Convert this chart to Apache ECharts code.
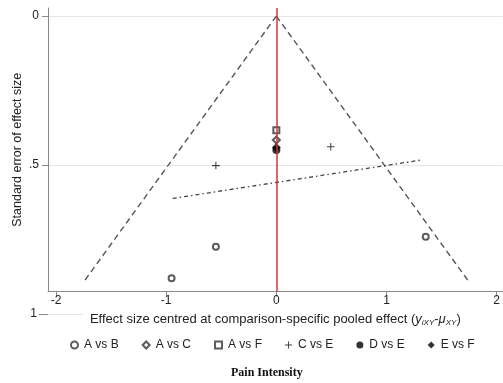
<!DOCTYPE html>
<html>
<head>
<meta charset="utf-8">
<script src="https://cdn.jsdelivr.net/npm/echarts@6/dist/echarts.min.js"></script>
<style>
  html, body { margin: 0; padding: 0; background: #fff; }
  #chart { width: 503px; height: 383px; }
</style>
</head>
<body>
<div id="chart"></div>
<script>
// Comparison-adjusted funnel plot: centred effect vs. standard error
const xTicks = [-2, -1, 0, 1, 2];
const yTicks = [0, 0.5];
const yTickLabels = ['0', '.5'];
const yExtraTick = [1];

// Observed comparisons: [centred effect, standard error]
const compAvsB = [[-0.951, 0.880], [-0.549, 0.774], [1.356, 0.741]];
const compAvsC = [[0.0, 0.416]];
const compAvsF = [[0.0, 0.383]];
const compCvsE = [[-0.549, 0.502], [0.494, 0.439]];
const compDvsE = [[0.0, 0.450]];
const compEvsF = [[0.0, 0.441]];

// Pseudo 95% limits and the fitted small-study line
const funnelLeft = [[0, 0], [-1.756, 0.896]];
const funnelRight = [[0, 0], [1.756, 0.896]];
const fitLine = [[-0.941, 0.612], [1.32, 0.483]];

const FONT = '"Liberation Sans", Arial, sans-serif';
const INK = '#333';
const AXIS = '#8a8a8a';
const plusPath = 'path://M4.3,0h1.4v4.3h4.3v1.4h-4.3v4.3h-1.4v-4.3h-4.3v-1.4h4.3z';

const chart = echarts.init(document.getElementById('chart'), null, { renderer: 'canvas' });

const option = {
  backgroundColor: '#fff',
  animation: false,
  title: {
    text: 'Pain Intensity',
    left: 226,
    top: 362,
    textStyle: { fontFamily: '"Liberation Serif", "Times New Roman", serif', fontSize: 12, fontWeight: 'bold', color: '#111' }
  },
  legend: {
    bottom: 27,
    left: 65,
    itemWidth: 7,
    itemHeight: 7,
    itemGap: 23,
    textStyle: { fontFamily: FONT, fontSize: 12, color: '#222', padding: [0, 0, 0, 1] },
    data: [
      { name: 'A vs B', icon: 'emptyCircle' },
      { name: 'A vs C', icon: 'emptyDiamond' },
      { name: 'A vs F', icon: 'emptyRect' },
      { name: 'C vs E', icon: plusPath },
      { name: 'D vs E', icon: 'circle' },
      { name: 'E vs F', icon: 'diamond' }
    ]
  },
  grid: [
    { left: 48, right: 0, top: 8, height: 283.5, containLabel: false },
    { left: 48, width: 35, top: 8, height: 306, containLabel: false }
  ],
  xAxis: [
    {
      gridIndex: 0,
      type: 'value',
      min: -2.073,
      max: 2.054,
      axisLine: { show: true, onZero: false, lineStyle: { color: AXIS, width: 1 } },
      axisTick: { show: true, length: 5, lineStyle: { color: AXIS }, customValues: xTicks },
      axisLabel: { show: true, customValues: xTicks, fontFamily: FONT, fontSize: 12, color: '#222', margin: 3 },
      splitLine: { show: false },
      name: '{t|Effect size centred at comparison-specific pooled effect (}{i|y}{s|iXY}{t|-}{i|μ}{s|XY}{t|)}',
      nameLocation: 'middle',
      nameGap: 21,
      nameTextStyle: {
        rich: {
          t: { fontFamily: FONT, fontSize: 13, color: '#222' },
          i: { fontFamily: FONT, fontSize: 13, fontStyle: 'italic', color: '#222' },
          s: { fontFamily: FONT, fontSize: 8, fontStyle: 'italic', color: '#222', verticalAlign: 'bottom', padding: [6, 0, 0, 0] }
        }
      }
    },
    { gridIndex: 1, type: 'value', min: -1, max: 1, show: false }
  ],
  yAxis: [
    {
      gridIndex: 0,
      type: 'value',
      inverse: true,
      min: -0.027,
      max: 0.9245,
      axisLine: { show: true, onZero: false, lineStyle: { color: AXIS, width: 1 } },
      axisTick: { show: true, length: 6, lineStyle: { color: AXIS, width: 1 }, customValues: yTicks },
      axisLabel: {
        show: true,
        customValues: yTicks,
        fontFamily: FONT, fontSize: 12, color: '#222', margin: 9,
        formatter: v => yTickLabels[yTicks.indexOf(v)] ?? ''
      },
      splitLine: { show: true, lineStyle: { color: '#e6e6e6', width: 1 } },
      name: 'Standard error of effect size',
      nameLocation: 'middle',
      nameGap: 24,
      nameMoveOverlap: false,
      nameTextStyle: { fontFamily: FONT, fontSize: 12.5, color: '#222' }
    },
    {
      gridIndex: 1,
      type: 'value',
      inverse: true,
      min: -0.027,
      max: 1,
      axisLine: { show: false, onZero: false },
      axisTick: { show: true, length: 9, lineStyle: { color: AXIS, width: 1 }, customValues: yExtraTick },
      axisLabel: { show: true, customValues: yExtraTick, fontFamily: FONT, fontSize: 12, color: '#222', margin: 11 },
      splitLine: { show: true, lineStyle: { color: '#e6e6e6', width: 1 } }
    }
  ],
  series: [
    {
      type: 'line', data: funnelLeft, symbol: 'none', silent: true,
      lineStyle: { color: '#555', width: 1.4, type: [6, 4] },
      markLine: {
        silent: true, symbol: 'none', label: { show: false },
        lineStyle: { color: '#c83a3a', width: 1.5, type: 'solid' },
        data: [{ xAxis: 0 }]
      }
    },
    {
      type: 'line', data: funnelRight, symbol: 'none', silent: true,
      lineStyle: { color: '#555', width: 1.4, type: [6, 4] }
    },
    {
      type: 'line', data: fitLine, symbol: 'none', silent: true,
      lineStyle: { color: '#444', width: 1.3, type: [4, 3, 1.5, 3] }
    },
    {
      name: 'A vs B', type: 'scatter', data: compAvsB, symbol: 'emptyCircle', symbolSize: 6,
      itemStyle: { color: INK, borderWidth: 1.3 }
    },
    {
      name: 'A vs C', type: 'scatter', data: compAvsC, symbol: 'emptyDiamond', symbolSize: 7,
      itemStyle: { color: INK, borderWidth: 1.2 }
    },
    {
      name: 'A vs F', type: 'scatter', data: compAvsF, symbol: 'emptyRect', symbolSize: 6,
      itemStyle: { color: INK, borderWidth: 1.2 }
    },
    {
      name: 'C vs E', type: 'scatter', data: compCvsE, symbol: plusPath, symbolSize: 7.5,
      itemStyle: { color: '#111' }
    },
    {
      name: 'D vs E', type: 'scatter', data: compDvsE, symbol: 'circle', symbolSize: 8,
      itemStyle: { color: '#000' }
    },
    {
      name: 'E vs F', type: 'scatter', data: compEvsF, symbol: 'diamond', symbolSize: 9,
      itemStyle: { color: '#000' }
    }
  ]
};

chart.setOption(option);
</script>
</body>
</html>
